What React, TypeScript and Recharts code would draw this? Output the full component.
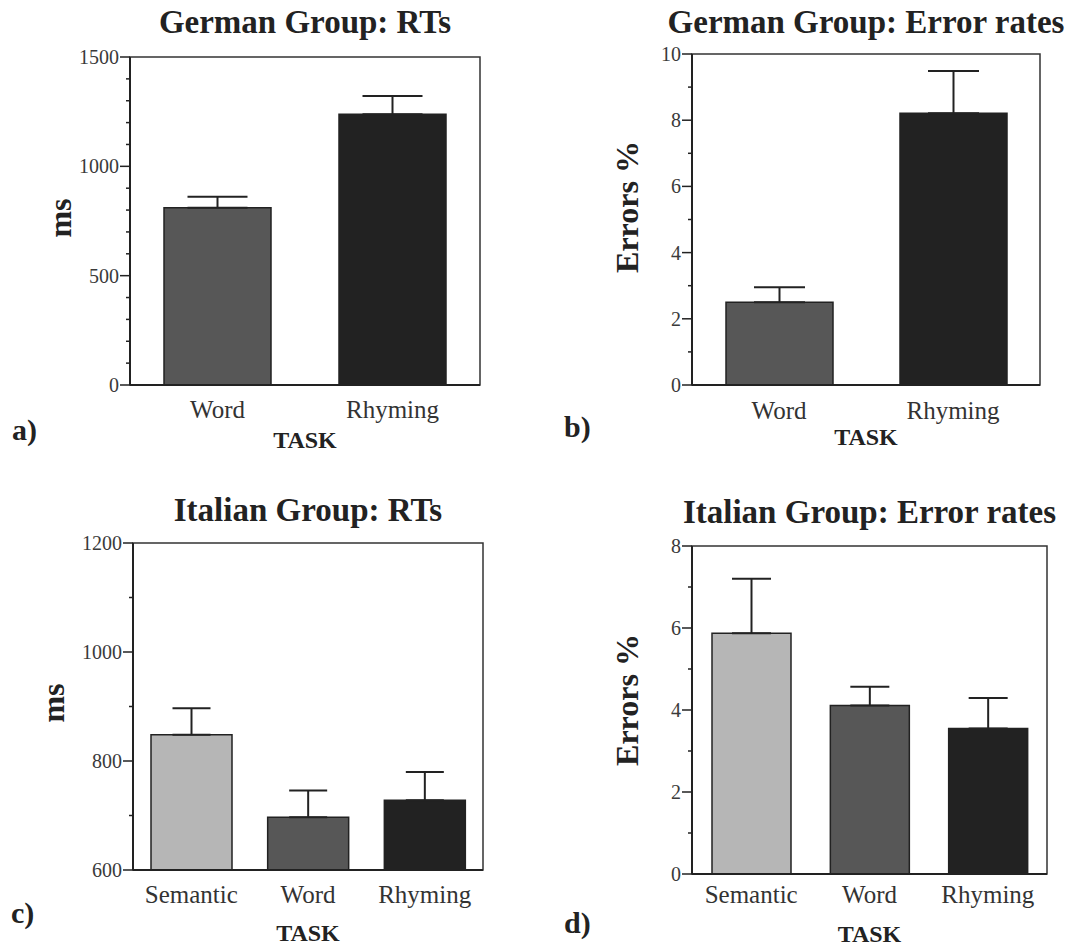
import React from "react";
import { BarChart, Bar, Cell, XAxis, YAxis, ErrorBar, ReferenceArea } from "recharts";

// German group
const germanTasks = ["Word", "Rhyming"];
const germanRt = [811, 1238];
const germanRtSe = [50, 84];
const germanErrors = [2.5, 8.21];
const germanErrorsSe = [0.45, 1.28];

// Italian group
const italianTasks = ["Semantic", "Word", "Rhyming"];
const italianRt = [848, 697, 728];
const italianRtSe = [49, 49, 52];
const italianErrors = [5.87, 4.11, 3.55];
const italianErrorsSe = [1.33, 0.46, 0.74];

// tick labels (major) and minor tick marks
const rtGermanTicks = [0, 500, 1000, 1500];
const rtGermanMinor = [100, 200, 300, 400, 600, 700, 800, 900, 1100, 1200, 1300, 1400];
const errGermanTicks = [0, 2, 4, 6, 8, 10];
const errGermanMinor = [1, 3, 5, 7, 9];
const rtItalianTicks = [600, 800, 1000, 1200];
const rtItalianMinor = [700, 900, 1100];
const errItalianTicks = [0, 2, 4, 6, 8];
const errItalianMinor = [1, 3, 5, 7];

const taskColors: Record<string, string> = {
  Semantic: "#b6b6b6",
  Word: "#575757",
  Rhyming: "#222222",
};

const serif = "'Liberation Serif', 'Times New Roman', serif";
const ink = "#222";

const makeRows = (tasks: string[], vals: number[], se: number[]) =>
  tasks.map((t, i) => ({ task: t, value: vals[i], err: [0, se[i]] }));

const YTick = ({ x, y, payload, majors }: any) => {
  const major = majors.includes(payload.value);
  return (
    <g>
      <line x1={x - (major ? 10 : 4)} x2={x} y1={y} y2={y} stroke={ink} strokeWidth={1.5} />
      {major && (
        <text x={x - 11} y={y} textAnchor="end" dominantBaseline="central" fontFamily={serif} fontSize={20} fill="#3a3a3a">
          {payload.value}
        </text>
      )}
    </g>
  );
};

type PanelProps = {
  left: number;
  top: number;
  width: number;
  height: number;
  plot: { l: number; t: number; r: number; b: number };
  rows: { task: string; value: number; err: number[] }[];
  domain: [number, number];
  majors: number[];
  minors: number[];
  barSize: number;
  capWidth: number;
  labelGap: number;
  title: string;
  yLabel: string;
  letter: string;
  letterPos: [number, number];
  titleY: number;
  yLabelPos: [number, number];
  taskY: number;
};

const Panel = (p: PanelProps) => {
  const yW = p.plot.l - p.left;
  const xH = 60;
  const margin = {
    top: p.plot.t - p.top,
    right: p.left + p.width - p.plot.r,
    bottom: p.top + p.height - p.plot.b - xH,
    left: 0,
  };
  const allTicks = [...p.majors, ...p.minors].sort((a, b) => a - b);
  const midX = (p.plot.l + p.plot.r) / 2;
  return (
    <>
      <div style={{ position: "absolute", left: p.left, top: p.top }}>
        <BarChart width={p.width} height={p.height} data={p.rows} margin={margin}>
          <XAxis
            dataKey="task"
            height={xH}
            tickSize={0}
            tickMargin={p.labelGap}
            axisLine={{ stroke: ink, strokeWidth: 2 }}
            tick={{ fontFamily: serif, fontSize: 25, fill: "#333" }}
            interval={0}
          />
          <YAxis
            type="number"
            domain={p.domain}
            ticks={allTicks}
            interval={0}
            width={yW}
            tickSize={0}
            tickMargin={0}
            tickLine={false}
            axisLine={{ stroke: ink, strokeWidth: 2 }}
            tick={<YTick majors={p.majors} />}
            allowDataOverflow
          />
          {/* frame round the plot */}
          <ReferenceArea y1={p.domain[0]} y2={p.domain[1]} fill="none" stroke="#333" strokeWidth={1.5} ifOverflow="visible" />
          <Bar dataKey="value" barSize={p.barSize} stroke={ink} strokeWidth={1.5} isAnimationActive={false}>
            {p.rows.map((r) => (
              <Cell key={r.task} fill={taskColors[r.task]} />
            ))}
            <ErrorBar dataKey="err" direction="y" width={p.capWidth / 2} stroke={ink} strokeWidth={2} isAnimationActive={false} />
          </Bar>
        </BarChart>
      </div>
      <div style={{ position: "absolute", left: midX - 270, width: 540, top: p.titleY - 20, textAlign: "center", fontFamily: serif, fontWeight: "bold", fontSize: 33, color: ink, whiteSpace: "nowrap", lineHeight: "40px" }}>
        {p.title}
      </div>
      <div style={{ position: "absolute", left: p.yLabelPos[0] - 100, top: p.yLabelPos[1] - 20, width: 200, height: 40, lineHeight: "40px", textAlign: "center", transform: "rotate(-90deg)", fontFamily: serif, fontWeight: "bold", fontSize: 32, color: ink, whiteSpace: "nowrap" }}>
        {p.yLabel}
      </div>
      <div style={{ position: "absolute", left: midX - 100, width: 200, top: p.taskY - 12, lineHeight: "24px", textAlign: "center", fontFamily: serif, fontWeight: "bold", fontSize: 24, color: ink }}>
        TASK
      </div>
      <div style={{ position: "absolute", left: p.letterPos[0], top: p.letterPos[1] - 18, lineHeight: "36px", fontFamily: serif, fontWeight: "bold", fontSize: 30, color: ink }}>
        {p.letter}
      </div>
    </>
  );
};

export default function App() {
  return (
    <div style={{ position: "absolute", left: 0, top: 0, width: 1076, height: 947, background: "#fff", overflow: "hidden" }}>
      <Panel
        left={0} top={0} width={540} height={470}
        plot={{ l: 130, t: 57, r: 480, b: 385 }}
        rows={makeRows(germanTasks, germanRt, germanRtSe)}
        domain={[0, 1500]} majors={rtGermanTicks} minors={rtGermanMinor}
        barSize={107} capWidth={60} labelGap={15}
        title="German Group: RTs" titleY={22}
        yLabel="ms" yLabelPos={[60, 218]}
        letter="a)" letterPos={[12, 430]} taskY={440}
      />
      <Panel
        left={540} top={0} width={536} height={470}
        plot={{ l: 692, t: 54, r: 1040, b: 385 }}
        rows={makeRows(germanTasks, germanErrors, germanErrorsSe)}
        domain={[0, 10]} majors={errGermanTicks} minors={errGermanMinor}
        barSize={107} capWidth={51} labelGap={16}
        title="German Group: Error rates" titleY={22}
        yLabel="Errors %" yLabelPos={[627, 207]}
        letter="b)" letterPos={[564, 427]} taskY={437}
      />
      <Panel
        left={0} top={470} width={540} height={477}
        plot={{ l: 133, t: 543, r: 483, b: 870 }}
        rows={makeRows(italianTasks, italianRt, italianRtSe)}
        domain={[600, 1200]} majors={rtItalianTicks} minors={rtItalianMinor}
        barSize={81} capWidth={38} labelGap={15}
        title="Italian Group: RTs" titleY={510}
        yLabel="ms" yLabelPos={[53, 703]}
        letter="c)" letterPos={[11, 913]} taskY={933}
      />
      <Panel
        left={540} top={470} width={536} height={477}
        plot={{ l: 692, t: 546, r: 1047, b: 874 }}
        rows={makeRows(italianTasks, italianErrors, italianErrorsSe)}
        domain={[0, 8]} majors={errItalianTicks} minors={errItalianMinor}
        barSize={79} capWidth={39} labelGap={11}
        title="Italian Group: Error rates" titleY={512}
        yLabel="Errors %" yLabelPos={[627, 700]}
        letter="d)" letterPos={[564, 923]} taskY={934}
      />
    </div>
  );
}
